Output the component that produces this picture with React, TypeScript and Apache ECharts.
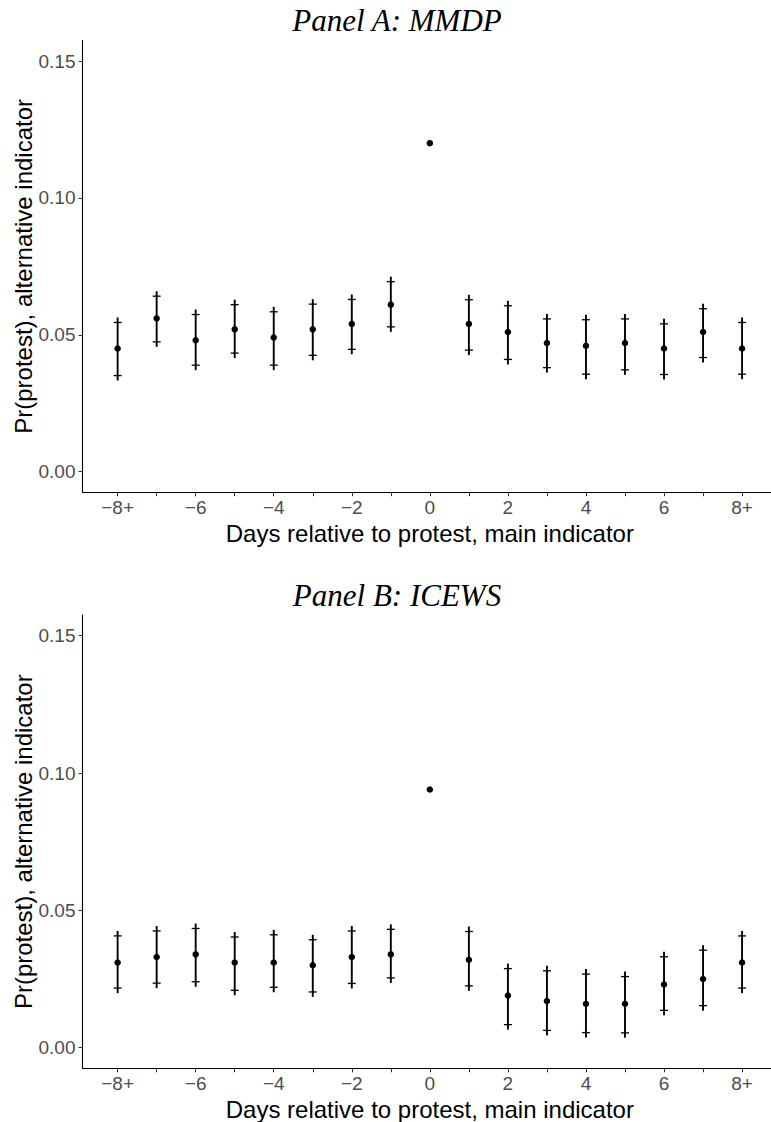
import React, { useEffect, useRef } from "react";
import * as echarts from "echarts";

// ---- data ----
const days = [-8, -7, -6, -5, -4, -3, -2, -1, 0, 1, 2, 3, 4, 5, 6, 7, 8];

const estA = [0.045, 0.056, 0.048, 0.052, 0.049, 0.052, 0.054, 0.061, 0.120, 0.054, 0.051, 0.047, 0.046, 0.047, 0.045, 0.051, 0.045];
const lowA = [0.0351, 0.0474, 0.0389, 0.0433, 0.0389, 0.0425, 0.0447, 0.0529, null, 0.0444, 0.041, 0.038, 0.0356, 0.0372, 0.0355, 0.0417, 0.0356];
const highA = [0.0545, 0.0641, 0.0574, 0.061, 0.0584, 0.0612, 0.0629, 0.0694, null, 0.0628, 0.0606, 0.0558, 0.0555, 0.0558, 0.054, 0.0595, 0.0545];

const estB = [0.031, 0.033, 0.034, 0.031, 0.031, 0.030, 0.033, 0.034, 0.094, 0.032, 0.019, 0.017, 0.016, 0.016, 0.023, 0.025, 0.031];
const lowB = [0.0217, 0.0235, 0.024, 0.0209, 0.022, 0.0203, 0.0234, 0.0254, null, 0.0225, 0.0084, 0.0063, 0.0055, 0.0054, 0.0136, 0.0153, 0.0217];
const highB = [0.0407, 0.0425, 0.0434, 0.0403, 0.0411, 0.0393, 0.0425, 0.0431, null, 0.0423, 0.0288, 0.028, 0.0268, 0.0259, 0.0331, 0.0355, 0.0407];

const xTickValues = [-8, -6, -4, -2, 0, 2, 4, 6, 8];
const xTickLabels = ["\u22128+", "\u22126", "\u22124", "\u22122", "0", "2", "4", "6", "8+"];
const yTickValues = [0, 0.05, 0.1, 0.15];
const yTickLabels = ["0.00", "0.05", "0.10", "0.15"];

const panelTitles = ["Panel A: MMDP", "Panel B: ICEWS"];
const xTitle = "Days relative to protest, main indicator";
const yTitle = "Pr(protest), alternative indicator";

const SANS = "Liberation Sans, Arial, sans-serif";

export default function App() {
  const ref = useRef<HTMLDivElement>(null);
  useEffect(() => {
    if (!ref.current) return;
    const chart = echarts.init(ref.current, null, { renderer: "svg" });

    const grids = [
      { left: 82.5, top: 40.5, width: 694.7, height: 451.7, containLabel: false, outerBoundsMode: "none" },
      { left: 82.5, top: 615.1, width: 694.7, height: 453.2, containLabel: false, outerBoundsMode: "none" },
    ];

    const mkX = (i: number) => ({
      type: "value",
      gridIndex: i,
      min: -8.9,
      max: 8.9,
      axisLine: { show: true, onZero: false, lineStyle: { color: "#000", width: 1.1 } },
      axisTick: { show: true, length: 4, customValues: days, lineStyle: { color: "#333", width: 1 } },
      axisLabel: {
        customValues: xTickValues,
        formatter: (v: number) => {
          const k = xTickValues.indexOf(Math.round(v));
          return k >= 0 ? xTickLabels[k] : "";
        },
        color: "#4D4D4D",
        fontSize: 19,
        fontFamily: SANS,
        margin: 6,
      },
      splitLine: { show: false },
      name: xTitle,
      nameLocation: "middle",
      nameGap: 29.5,
      nameMoveOverlap: false,
      nameTextStyle: { fontSize: 24, color: "#000", fontFamily: SANS },
    });

    const mkY = (i: number) => ({
      type: "value",
      gridIndex: i,
      min: -0.0075,
      max: 0.1575,
      axisLine: { show: true, onZero: false, lineStyle: { color: "#000", width: 1.1 } },
      axisTick: { show: true, length: 4, customValues: yTickValues, lineStyle: { color: "#333", width: 1 } },
      axisLabel: {
        customValues: yTickValues,
        formatter: (v: number) => {
          let best = 0;
          yTickValues.forEach((t, k) => {
            if (Math.abs(t - v) < Math.abs(yTickValues[best] - v)) best = k;
          });
          return yTickLabels[best];
        },
        color: "#4D4D4D",
        fontSize: 19,
        fontFamily: SANS,
        margin: 7,
      },
      splitLine: { show: false },
      name: yTitle,
      nameLocation: "middle",
      nameGap: 47,
      nameMoveOverlap: false,
      nameTextStyle: { fontSize: 24, color: "#000", fontFamily: SANS },
    });

    const errData = (low: (number | null)[], high: (number | null)[]) =>
      days
        .map((d, k) => [d, low[k], high[k]])
        .filter((r) => r[1] !== null && r[2] !== null);

    const renderErr = (params: any, api: any) => {
      const x = api.value(0);
      const top = api.coord([x, api.value(2)]);
      const bot = api.coord([x, api.value(1)]);
      const cx = top[0];
      return {
        type: "group",
        children: [
          {
            type: "line",
            shape: { x1: cx, y1: top[1] - 5, x2: cx, y2: bot[1] + 5 },
            style: { stroke: "#000", lineWidth: 1.9 },
          },
          {
            type: "line",
            shape: { x1: cx - 4, y1: top[1], x2: cx + 4, y2: top[1] },
            style: { stroke: "#000", lineWidth: 1.3 },
          },
          {
            type: "line",
            shape: { x1: cx - 4, y1: bot[1], x2: cx + 4, y2: bot[1] },
            style: { stroke: "#000", lineWidth: 1.3 },
          },
        ],
      };
    };

    const pts = (est: number[]) => days.map((d, k) => [d, est[k]]);

    const titleFont = 'italic 31px "Liberation Serif", "Times New Roman", serif';

    const option = {
      animation: false,
      backgroundColor: "#fff",
      grid: grids,
      xAxis: [mkX(0), mkX(1)],
      yAxis: [mkY(0), mkY(1)],
      graphic: [
        {
          type: "text",
          x: 397,
          y: 20.5,
          style: {
            text: panelTitles[0],
            font: titleFont,
            fill: "#000",
            textAlign: "center",
            textVerticalAlign: "middle",
          },
        },
        {
          type: "text",
          x: 397,
          y: 595,
          style: {
            text: panelTitles[1],
            font: titleFont,
            fill: "#000",
            textAlign: "center",
            textVerticalAlign: "middle",
          },
        },
      ],
      series: [
        {
          type: "custom",
          xAxisIndex: 0,
          yAxisIndex: 0,
          renderItem: renderErr,
          data: errData(lowA, highA),
          encode: { x: 0, y: [1, 2] },
        },
        {
          type: "scatter",
          xAxisIndex: 0,
          yAxisIndex: 0,
          symbol: "circle",
          symbolSize: 6.5,
          itemStyle: { color: "#000", opacity: 1 },
          data: pts(estA),
        },
        {
          type: "custom",
          xAxisIndex: 1,
          yAxisIndex: 1,
          renderItem: renderErr,
          data: errData(lowB, highB),
          encode: { x: 0, y: [1, 2] },
        },
        {
          type: "scatter",
          xAxisIndex: 1,
          yAxisIndex: 1,
          symbol: "circle",
          symbolSize: 6.5,
          itemStyle: { color: "#000", opacity: 1 },
          data: pts(estB),
        },
      ],
    };

    chart.setOption(option as any);
    return () => chart.dispose();
  }, []);

  return (
    <div
      ref={ref}
      style={{ position: "absolute", left: 0, top: 0, width: 771, height: 1122, background: "#fff" }}
    />
  );
}
